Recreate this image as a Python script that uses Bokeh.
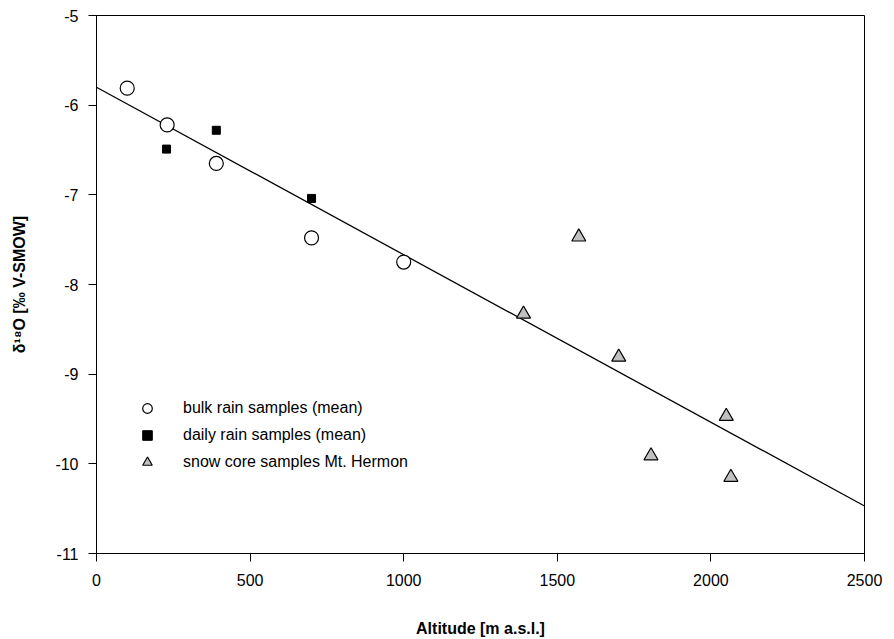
from bokeh.plotting import figure
from bokeh.models import Range1d, FixedTicker, Legend, LegendItem
from bokeh.embed import file_html
from bokeh.resources import INLINE

# ---- data ----
bulk_alt = [100, 230, 390, 700, 1000]
bulk_d18o = [-5.81, -6.22, -6.65, -7.48, -7.75]

daily_alt = [228, 390, 700]
daily_d18o = [-6.49, -6.28, -7.04]

snow_alt = [1390, 1570, 1700, 1805, 2050, 2065]
snow_d18o = [-8.33, -7.47, -8.81, -9.91, -9.47, -10.15]

fit_alt = [0, 2500]
fit_d18o = [-5.80, -10.47]

x_ticks = [0, 500, 1000, 1500, 2000, 2500]
y_ticks = [-11, -10, -9, -8, -7, -6, -5]
y_tick_labels = ["-11", "-10", "-9", "-8", "-7", "-6", "-5"]

labels = ["bulk rain samples (mean)", "daily rain samples (mean)",
          "snow core samples Mt. Hermon"]

FONT = "Liberation Sans"

p = figure(width=894, height=639, output_backend="svg", toolbar_location=None,
           x_range=Range1d(0, 2500), y_range=Range1d(-11, -5),
           min_border_left=96, min_border_right=30, min_border_top=15,
           min_border_bottom=86)
p.background_fill_color = "white"
p.border_fill_color = "white"
p.outline_line_color = "black"
p.outline_line_width = 1
p.xgrid.visible = False
p.ygrid.visible = False

for ax in (p.xaxis[0], p.yaxis[0]):
    ax.axis_line_color = "black"
    ax.axis_line_width = 1
    ax.major_tick_line_color = "black"
    ax.major_tick_out = 8
    ax.major_tick_in = 0
    ax.minor_tick_line_color = None
    ax.major_label_text_font = FONT
    ax.major_label_text_font_size = "16px"
    ax.major_label_text_color = "black"
    ax.axis_label_text_font = FONT
    ax.axis_label_text_font_style = "bold"
    ax.axis_label_text_font_size = "16px"
    ax.axis_label_text_color = "black"

p.xaxis[0].ticker = FixedTicker(ticks=x_ticks)
p.yaxis[0].ticker = FixedTicker(ticks=y_ticks)
p.yaxis[0].major_label_overrides = {t: s for t, s in zip(y_ticks, y_tick_labels)}
p.xaxis[0].major_label_standoff = 12
p.yaxis[0].major_label_standoff = 10
p.xaxis[0].axis_label = "Altitude [m a.s.l.]"
p.yaxis[0].axis_label = "δ¹⁸O [‰ V-SMOW]"
p.xaxis[0].axis_label_standoff = 31
p.yaxis[0].axis_label_standoff = 24

# regression line
p.line(fit_alt, fit_d18o, line_color="black", line_width=1.3)

r_bulk = p.scatter(bulk_alt, bulk_d18o, marker="circle", size=14,
                   fill_color="white", line_color="black", line_width=1.2)
r_daily = p.scatter(daily_alt, daily_d18o, marker="square", size=8,
                    fill_color="black", line_color="black", line_width=1)
r_snow = p.scatter(snow_alt, snow_d18o, marker="triangle", size=14,
                   fill_color="#c0c0c0", line_color="black", line_width=1.2)

legend = Legend(items=[LegendItem(label=labels[0], renderers=[r_bulk]),
                       LegendItem(label=labels[1], renderers=[r_daily]),
                       LegendItem(label=labels[2], renderers=[r_snow])],
                location=(39, 79), orientation="vertical")
legend.border_line_alpha = 0
legend.background_fill_alpha = 0
legend.padding = 0
legend.margin = 0
legend.spacing = 3
legend.glyph_width = 24
legend.glyph_height = 24
legend.label_height = 24
legend.label_standoff = 24
legend.label_text_font = FONT
legend.label_text_font_size = "16px"
legend.label_text_color = "black"
p.add_layout(legend, "center")

open("out.html", "w").write(file_html(p, INLINE))
